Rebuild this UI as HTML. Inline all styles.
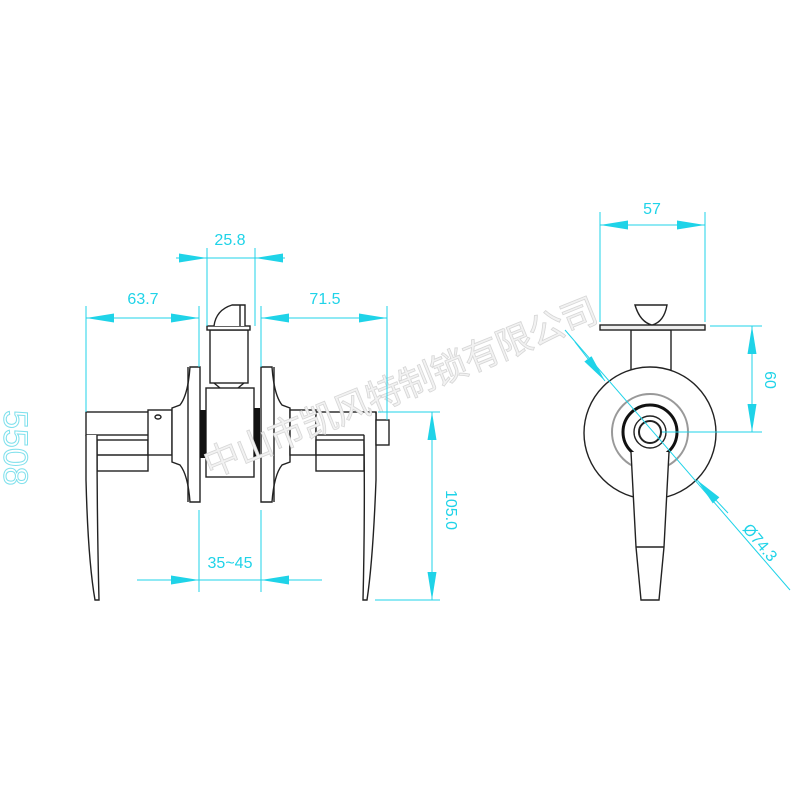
<!DOCTYPE html>
<html><head><meta charset="utf-8"><style>
html,body{margin:0;padding:0;background:#fff;width:800px;height:800px;overflow:hidden}
svg{display:block}
text{font-family:"Liberation Sans","Noto Sans CJK SC",sans-serif}
</style></head><body>
<svg width="800" height="800" viewBox="0 0 800 800" xmlns="http://www.w3.org/2000/svg">
<defs>
<marker id="a" viewBox="0 0 28 10" refX="28" refY="5" markerWidth="28" markerHeight="10" markerUnits="userSpaceOnUse" orient="auto-start-reverse" preserveAspectRatio="none"><path d="M0,0.5 L28,5 L0,9.5 Z" fill="#1fd3e8"/></marker>
</defs>
<rect width="800" height="800" fill="#fff"/>
<text x="0" y="0" transform="translate(4,410) rotate(90)" font-size="34" fill="none" stroke="#7fe0ec" stroke-width="1">5508</text>

<g stroke="#222" stroke-width="1.4" fill="none">
<rect x="86" y="412" width="66" height="23" fill="#fff"/>
<rect x="97" y="440" width="51" height="31" fill="#fff"/>
<line x1="97" y1="455" x2="148" y2="455" />
<path d="M86,435 L86,480 Q88,560 95,600 L99,600 Q97,520 97,435" fill="#fff"/>
<rect x="148" y="410" width="24" height="45" fill="#fff"/>
<ellipse cx="158" cy="417" rx="3" ry="2"/>
<path d="M172,408 L180,405 Q188,395 190,367 L200,367 L200,502 L190,502 Q188,475 180,465 L172,462 Z" fill="#fff"/>
<line x1="188" y1="367" x2="188" y2="502"/>
<rect x="206" y="388" width="48" height="89" fill="#fff"/>
<rect x="210" y="330" width="38" height="53" fill="#fff"/>
<path d="M214,383 L220,388 M244,383 L238,388"/>
<rect x="207" y="326" width="43" height="4" fill="#fff"/>
<path d="M214,326 Q216,310 232,305 L245,305 L245,326" fill="#fff"/>
<line x1="240" y1="305" x2="240" y2="326"/>
<path d="M290,408 L282,405 Q274,395 272,367 L261,367 L261,502 L272,502 Q274,475 282,465 L290,462 Z" fill="#fff"/>
<line x1="274" y1="367" x2="274" y2="502"/>
<rect x="290" y="410" width="26" height="45" fill="#fff"/>
<rect x="316" y="440" width="48" height="31" fill="#fff"/>
<line x1="316" y1="455" x2="364" y2="455"/>
<rect x="316" y="412" width="60" height="23" fill="#fff"/>
<path d="M376,412 L376,480 Q373,560 367,600 L363,600 Q365,520 364,435" fill="#fff"/>
<rect x="376" y="420" width="13" height="25" fill="#fff"/>
</g>
<rect x="200" y="410" width="6" height="48" fill="#111"/>
<rect x="254" y="408" width="6" height="50" fill="#111"/>

<g stroke="#222" stroke-width="1.4" fill="none">
<rect x="631" y="330" width="40" height="40" fill="#fff"/>
<circle cx="650" cy="433" r="66" fill="#fff"/>
<circle cx="650" cy="432" r="38" stroke="#999" stroke-width="2"/>
<circle cx="650" cy="432" r="27" stroke="#111" stroke-width="3"/>
<path d="M631,452 L636,547 L641,600 L659,600 L664,547 L669,452" fill="#fff"/>
<circle cx="650" cy="432" r="16" fill="#fff"/>
<circle cx="650" cy="432" r="11" stroke-width="2"/>
<line x1="636" y1="547" x2="664" y2="547"/>
<rect x="600" y="325" width="105" height="5" fill="#eee"/>
<path d="M635,305 L667,305 Q664,322 652,325 Q640,322 635,305 Z" fill="#fff"/>
</g>

<text x="0" y="0" transform="translate(210,478) rotate(-22)" font-size="36" fill="#f2f2f2" stroke="#d6d6d6" stroke-width="0.8" letter-spacing="-1">中山市凯风特制锁有限公司</text>

<g stroke="#1fd3e8" stroke-width="1" fill="none">
<line x1="207" y1="248" x2="207" y2="326"/><line x1="255" y1="248" x2="255" y2="326"/>
<line x1="176" y1="258" x2="207" y2="258" marker-end="url(#a)"/>
<line x1="285" y1="258" x2="255" y2="258" marker-end="url(#a)"/>
<line x1="207" y1="258" x2="255" y2="258"/>
<line x1="86" y1="306" x2="86" y2="412"/>
<line x1="199" y1="306" x2="199" y2="367"/><line x1="199" y1="510" x2="199" y2="592"/>
<line x1="261" y1="306" x2="261" y2="367"/><line x1="261" y1="510" x2="261" y2="592"/>
<line x1="387" y1="306" x2="387" y2="420"/>
<line x1="86" y1="318" x2="199" y2="318" marker-start="url(#a)" marker-end="url(#a)"/>
<line x1="261" y1="318" x2="387" y2="318" marker-start="url(#a)" marker-end="url(#a)"/>
<line x1="137" y1="580" x2="199" y2="580" marker-end="url(#a)"/>
<line x1="322" y1="580" x2="261" y2="580" marker-end="url(#a)"/>
<line x1="199" y1="580" x2="261" y2="580"/>
<line x1="378" y1="412" x2="440" y2="412"/><line x1="375" y1="600" x2="440" y2="600"/>
<line x1="432" y1="412" x2="432" y2="600" marker-start="url(#a)" marker-end="url(#a)"/>
<line x1="600" y1="212" x2="600" y2="322"/><line x1="705" y1="212" x2="705" y2="322"/>
<line x1="600" y1="225" x2="705" y2="225" marker-start="url(#a)" marker-end="url(#a)"/>
<line x1="710" y1="326" x2="762" y2="326"/><line x1="662" y1="432" x2="762" y2="432"/>
<line x1="752" y1="326" x2="752" y2="432" marker-start="url(#a)" marker-end="url(#a)"/>
<line x1="565" y1="330" x2="790" y2="590"/>
<line x1="575" y1="342" x2="605" y2="381" marker-end="url(#a)"/>
<line x1="728" y1="513" x2="697" y2="480" marker-end="url(#a)"/>
</g>
<g fill="#1fd3e8" font-size="16">
<text x="230" y="245" text-anchor="middle">25.8</text>
<text x="143" y="304" text-anchor="middle">63.7</text>
<text x="325" y="304" text-anchor="middle">71.5</text>
<text x="230" y="568" text-anchor="middle">35~45</text>
<text x="652" y="214" text-anchor="middle">57</text>
<text transform="translate(446,510) rotate(90)" text-anchor="middle">105.0</text>
<text transform="translate(765,380) rotate(90)" text-anchor="middle">60</text>
<text transform="translate(756,546) rotate(50)" text-anchor="middle">Ø74.3</text>
</g>
</svg>
</body></html>
